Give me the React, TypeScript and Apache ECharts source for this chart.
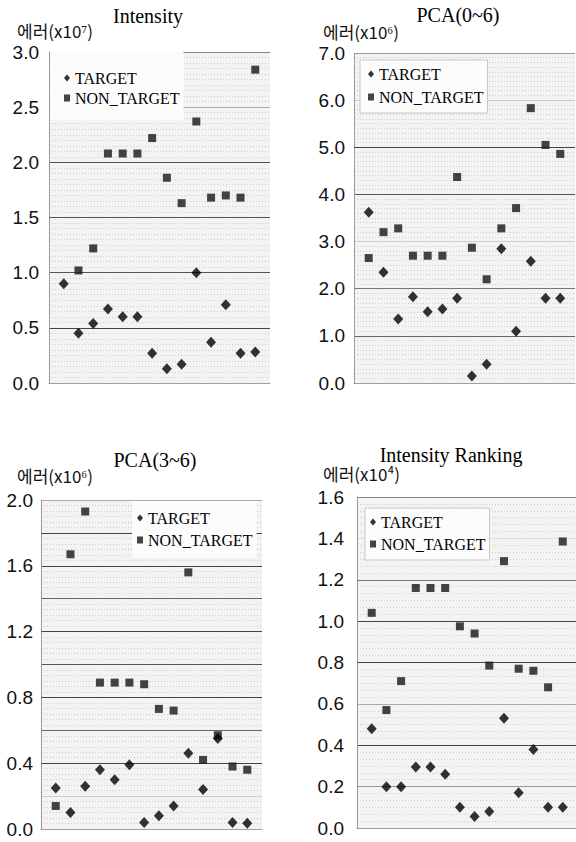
import React, { useEffect, useRef } from "react";
import * as echarts from "echarts";

const samples = [1, 2, 3, 4, 5, 6, 7, 8, 9, 10, 11, 12, 13, 14];

const intensityTarget = [0.9, 0.45, 0.54, 0.67, 0.6, 0.6, 0.27, 0.13, 0.17, 1.0, 0.37, 0.71, 0.27, 0.28];
const intensityNonTarget = [null, 1.02, 1.22, 2.08, 2.08, 2.08, 2.22, 1.86, 1.63, 2.37, 1.68, 1.7, 1.68, 2.84];

const pca06Target = [3.62, 2.35, 1.36, 1.83, 1.51, 1.57, 1.8, 0.15, 0.4, 2.85, 1.1, 2.58, 1.8, 1.8];
const pca06NonTarget = [2.65, 3.2, 3.28, 2.7, 2.7, 2.7, 4.37, 2.87, 2.2, 3.28, 3.71, 5.83, 5.05, 4.86];

const pca36Target = [0.25, 0.1, 0.26, 0.36, 0.3, 0.39, 0.04, 0.08, 0.14, 0.46, 0.24, 0.55, 0.04, 0.035];
const pca36NonTarget = [0.14, 1.67, 1.93, 0.89, 0.89, 0.89, 0.88, 0.73, 0.72, 1.56, 0.42, 0.57, 0.38, 0.36];

const rankTarget = [0.48, 0.2, 0.2, 0.295, 0.295, 0.26, 0.1, 0.055, 0.08, 0.53, 0.17, 0.38, 0.1, 0.1];
const rankNonTarget = [1.04, 0.57, 0.71, 1.16, 1.16, 1.16, 0.975, 0.94, 0.785, 1.29, 0.77, 0.76, 0.68, 1.385];

const titles = ["Intensity", "PCA(0~6)", "PCA(3~6)", "Intensity Ranking"];
const axisNames = ["에러(x10⁷)", "에러(x10⁶)", "에러(x10⁶)", "에러(x10⁴)"];
const seriesNames = ["TARGET", "NON_TARGET"];

const yMin = [0, 0, 0, 0];
const yMax = [3.0, 7.0, 2.0, 1.6];
const yStep = [0.5, 1.0, 0.2, 0.2];

const targetSets = [intensityTarget, pca06Target, pca36Target, rankTarget];
const nonTargetSets = [intensityNonTarget, pca06NonTarget, pca36NonTarget, rankNonTarget];

// layout (pixels)
const panels = [
  { left: 49, top: 52, width: 221, height: 331, xMax: 15, labelMargin: 10, minor: 10,
    title: [148, 16], name: [17, 30],
    legend: { left: 50, top: 52, padding: [18, 4, 14, 14], gap: 4 },
    lines: ["#bbb", "#444", "#555", "#555", "#555", "#aaa", "#888"] },
  { left: 354, top: 53, width: 221, height: 330, xMax: 15, labelMargin: 9, minor: 10,
    title: [458, 15], name: [323, 31],
    legend: { left: 360, top: 60, padding: [6, 4, 8, 8], gap: 7 },
    lines: ["#bbb", "#666", "#777", "#ccc", "#555", "#444", "#ccc", "#999"] },
  { left: 41, top: 500, width: 221, height: 329, xMax: 15, labelMargin: 8, minor: 6,
    title: [155, 460], name: [17, 475],
    legend: { left: 132, top: 501, padding: [9, 4, 10, 5], gap: 6 },
    lines: ["#bbb", "#ccc", "#444", "#666", "#444", "#555", "#444", "#666", "#444", "#444", "#aaa"] },
  { left: 357, top: 497, width: 219, height: 331, xMax: 14.9, labelMargin: 13, minor: 6,
    title: [451, 455], name: [323, 473],
    legend: { left: 365, top: 508, padding: [6, 4, 8, 5], gap: 6 },
    lines: ["#bbb", "#999", "#444", "#aaa", "#444", "#444", "#777", "#ddd", "#888"] },
];

function pairs(vals: (number | null)[]) {
  const out: number[][] = [];
  vals.forEach((v, i) => {
    if (v !== null) out.push([samples[i], v]);
  });
  return out;
}

function buildOption() {
  const grid: any[] = [];
  const xAxis: any[] = [];
  const yAxis: any[] = [];
  const series: any[] = [];
  const legend: any[] = [];
  const graphic: any[] = [];

  panels.forEach((p, k) => {
    grid.push({
      left: p.left, top: p.top, width: p.width, height: p.height,
      show: true, backgroundColor: "#f3f3f3", borderWidth: 0,
    });
    xAxis.push({
      type: "value", gridIndex: k, min: 0, max: p.xMax,
      axisLine: { show: true, onZero: false, lineStyle: { color: "#999", type: "dotted", width: 1 } },
      axisTick: { show: false }, axisLabel: { show: false }, splitLine: { show: false },
    });
    yAxis.push({
      type: "value", gridIndex: k, min: yMin[k], max: yMax[k], interval: yStep[k],
      axisLine: { show: true, lineStyle: { color: "#888", type: "dotted", width: 1 } },
      axisTick: { show: false },
      minorTick: { show: false, splitNumber: p.minor },
      minorSplitLine: { show: true, lineStyle: { color: "#cdcdcd", type: [1, 2], width: 1 } },
      axisLabel: {
        margin: p.labelMargin, fontSize: 19, fontFamily: "Liberation Sans", color: "#111",
        formatter: (v: number) => {
          if (k === 2 && Math.round(v * 10) % 4 !== 0) return "";
          return v.toFixed(1);
        },
      },
      splitLine: { show: true, lineStyle: { color: p.lines, width: 1 } },
    });
    series.push({
      name: seriesNames[1], type: "scatter", xAxisIndex: k, yAxisIndex: k,
      symbol: "rect", symbolSize: 8, itemStyle: { color: "#151515" },
      data: pairs(nonTargetSets[k]),
    });
    series.push({
      name: seriesNames[0], type: "scatter", xAxisIndex: k, yAxisIndex: k,
      symbol: "diamond", symbolSize: [10, 11], itemStyle: { color: "#000" },
      data: pairs(targetSets[k]),
    });
    legend.push({
      orient: "vertical", left: p.legend.left, top: p.legend.top,
      padding: p.legend.padding, itemGap: p.legend.gap,
      itemWidth: 6, itemHeight: 7,
      backgroundColor: "#fcfcfc",
      borderColor: k === 1 || k === 3 ? "#c8c8c8" : "transparent", borderWidth: 1,
      selectedMode: false,
      textStyle: { fontFamily: "Liberation Serif", fontSize: 16, color: "#000", lineHeight: 16 },
      data: [
        { name: seriesNames[0], icon: "diamond" },
        { name: seriesNames[1], icon: "rect" },
      ],
    });
    graphic.push({
      type: "text", x: p.title[0], y: p.title[1], z: 10,
      style: {
        text: titles[k], fontFamily: "Liberation Serif", fontSize: 20, fill: "#000",
        textAlign: "center", textVerticalAlign: "middle",
      },
    });
    graphic.push({
      type: "text", x: p.name[0], y: p.name[1], z: 10,
      style: {
        text: axisNames[k], fontFamily: "Noto Sans CJK KR", fontSize: 17, fill: "#111",
        textAlign: "left", textVerticalAlign: "middle",
      },
    });
  });

  return { animation: false, backgroundColor: "#fff", grid, xAxis, yAxis, series, legend, graphic };
}

export default function App() {
  const ref = useRef<HTMLDivElement>(null);
  useEffect(() => {
    const chart = echarts.init(ref.current!, null, { renderer: "svg" });
    chart.setOption(buildOption());
    return () => chart.dispose();
  }, []);
  return (
    <div
      ref={ref}
      style={{ position: "absolute", left: 0, top: 0, width: 576, height: 842, background: "#fff" }}
    />
  );
}
